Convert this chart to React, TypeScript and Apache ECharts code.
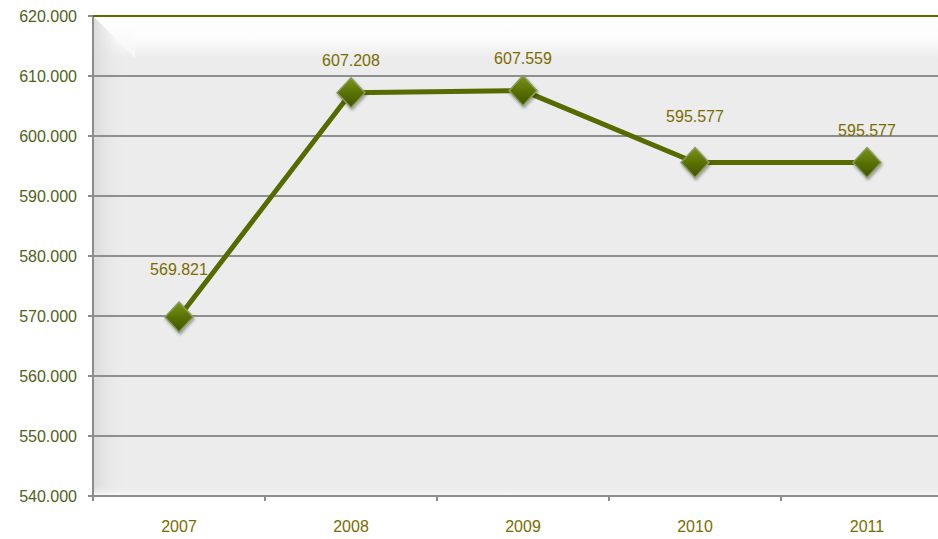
import React, { useEffect, useRef } from "react";
import * as echarts from "echarts";

const categories = ["2007", "2008", "2009", "2010", "2011"];
const values = [569.821, 607.208, 607.559, 595.577, 595.577];
const yMin = 540;
const yMax = 620;
const yInterval = 10;

const labelDistances = [24, 8, 8, 22, 8];

export default function App() {
  const ref = useRef<HTMLDivElement>(null);
  useEffect(() => {
    document.body.style.margin = "0";
    const chart = echarts.init(ref.current!, null, { renderer: "svg" });
    const left = 93;
    const top = 16;
    const plotW = 860;
    const plotH = 480;
    chart.setOption({
      animation: false,
      backgroundColor: "#ffffff",
      grid: {
        left,
        top,
        width: plotW,
        height: plotH,
        show: false,
      },
      graphic: [
        {
          type: "rect",
          z: -10,
          shape: { x: left, y: top, width: plotW, height: plotH },
          style: { fill: "#ececec" },
          silent: true,
        },
        {
          type: "rect",
          z: -9,
          shape: { x: left, y: top, width: plotW, height: 42 },
          style: {
            fill: new echarts.graphic.LinearGradient(0, 0, 0, 1, [
              { offset: 0, color: "#ffffff" },
              { offset: 0.55, color: "#fcfcfc" },
              { offset: 1, color: "#ececec" },
            ]),
          },
          silent: true,
        },
        {
          type: "rect",
          z: -9,
          shape: { x: left, y: top, width: 34, height: plotH },
          style: {
            fill: new echarts.graphic.LinearGradient(0, 0, 1, 0, [
              { offset: 0, color: "#dadada" },
              { offset: 1, color: "rgba(236,236,236,0)" },
            ]),
          },
          silent: true,
        },
        {
          type: "rect",
          z: -9,
          shape: { x: left, y: top + plotH - 10, width: plotW, height: 10 },
          style: {
            fill: new echarts.graphic.LinearGradient(0, 0, 0, 1, [
              { offset: 0, color: "rgba(236,236,236,0)" },
              { offset: 1, color: "#fafafa" },
            ]),
          },
          silent: true,
        },
        {
          type: "polygon",
          z: -8,
          shape: {
            points: [
              [left, top],
              [left + 42, top],
              [left + 42, top + 42],
            ],
          },
          style: {
            fill: new echarts.graphic.LinearGradient(0, 0, 0, 1, [
              { offset: 0, color: "#ffffff" },
              { offset: 1, color: "#f6f6f6" },
            ]),
          },
          silent: true,
        },
      ],
      xAxis: {
        type: "category",
        data: categories,
        boundaryGap: true,
        axisLine: { show: true, lineStyle: { color: "#8c8c8c", width: 2 } },
        axisTick: {
          show: true,
          alignWithLabel: false,
          length: 5,
          lineStyle: { color: "#8c8c8c", width: 2 },
        },
        axisLabel: {
          color: "#7a6c00",
          fontFamily: "Liberation Sans",
          fontSize: 16,
          margin: 22,
        },
        splitLine: { show: false },
      },
      yAxis: {
        type: "value",
        min: yMin,
        max: yMax,
        interval: yInterval,
        axisLine: { show: true, lineStyle: { color: "#8c8c8c", width: 2 } },
        axisTick: { show: true, length: 5, lineStyle: { color: "#8c8c8c", width: 2 } },
        axisLabel: {
          color: "#4f6219",
          fontFamily: "Liberation Sans",
          fontSize: 16,
          margin: 16,
          formatter: (v: number) => v.toFixed(3),
        },
        splitLine: {
          show: true,
          lineStyle: { color: "#8f8f8f", width: 2 },
        },
      },
      series: [
        {
          type: "line",
          data: values.map((v, i) => ({
            value: v,
            label: { distance: labelDistances[i] },
          })),
          symbol: "diamond",
          symbolSize: [28, 30],
          lineStyle: { color: "#556b00", width: 5 },
          itemStyle: {
            color: new echarts.graphic.LinearGradient(0, 0, 0, 1, [
              { offset: 0, color: "#7a9418" },
              { offset: 0.5, color: "#5b7205" },
              { offset: 1, color: "#3f5200" },
            ]),
            borderColor: "#8a9a60",
            borderWidth: 1.5,
            shadowColor: "rgba(0,0,0,0.35)",
            shadowBlur: 3,
            shadowOffsetX: 1,
            shadowOffsetY: 2,
          },
          label: {
            show: true,
            position: "top",
            color: "#7a6c00",
            fontFamily: "Liberation Sans",
            fontSize: 16,
            formatter: (p: any) => Number(p.value).toFixed(3),
          },
          z: 5,
        },
        {
          type: "line",
          data: [],
          markLine: {
            silent: true,
            symbol: "none",
            label: { show: false },
            lineStyle: { color: "#5a6e00", width: 2, type: "solid" },
            data: [{ yAxis: yMax }],
          },
        },
      ],
    });
    return () => chart.dispose();
  }, []);
  return (
    <div style={{ width: 938, height: 539, overflow: "hidden", position: "relative" }}>
      <div ref={ref} style={{ width: 970, height: 539 }} />
    </div>
  );
}
